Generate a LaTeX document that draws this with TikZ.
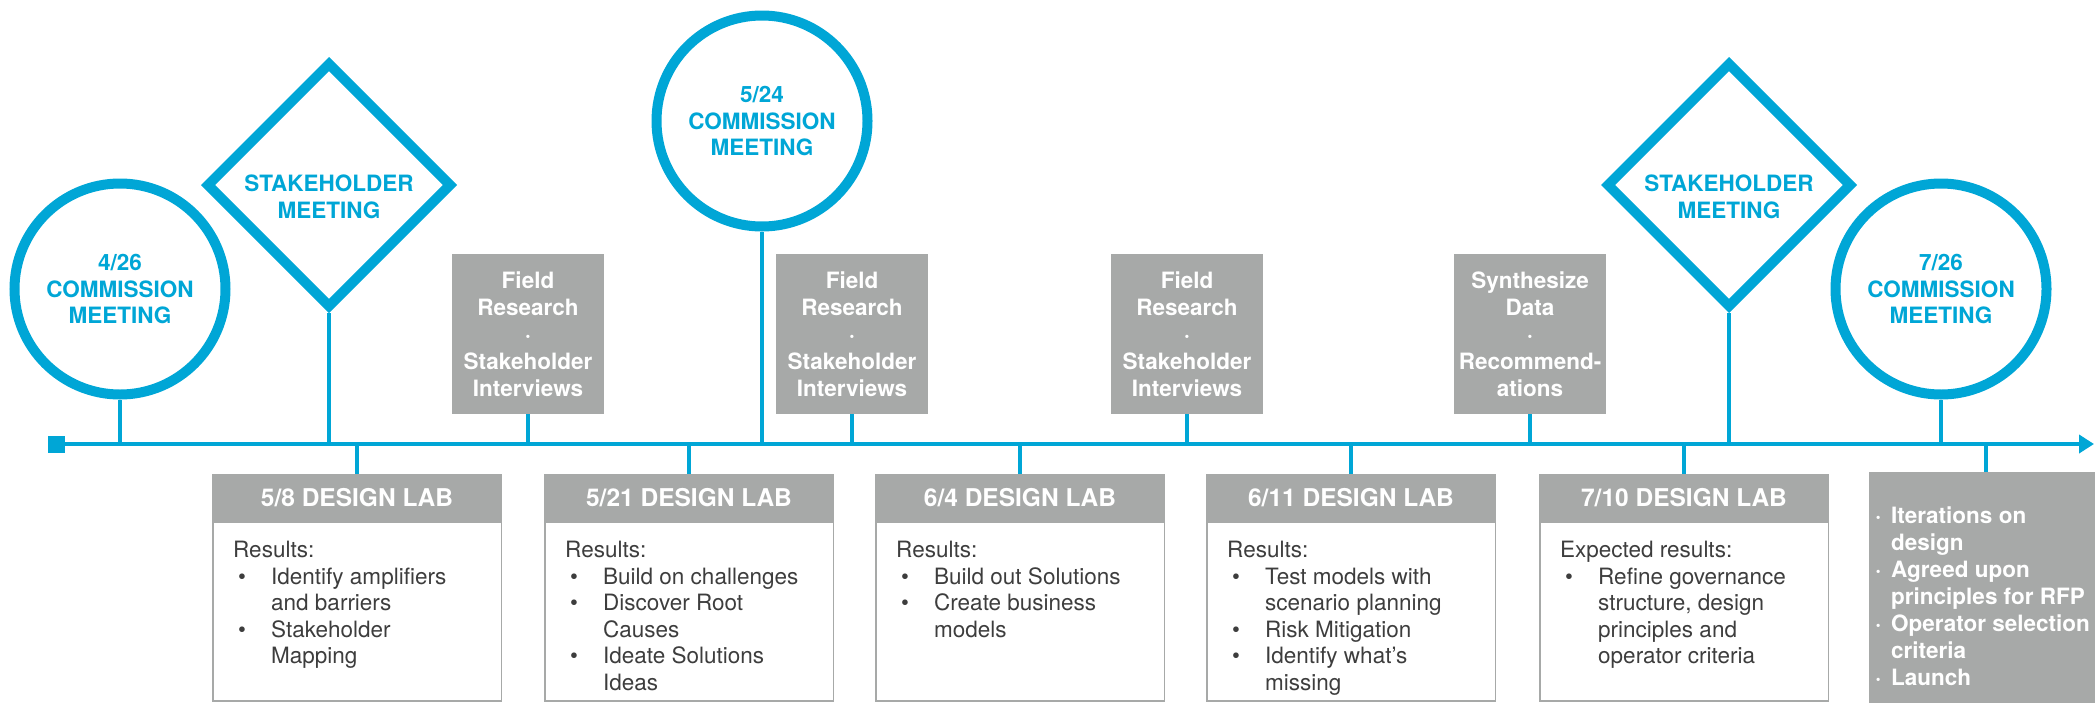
\documentclass[tikz,border=0pt]{standalone}
\usepackage{fontspec}
\setmainfont{TeX Gyre Heros}
\usetikzlibrary{shapes.geometric,arrows.meta,positioning}
\definecolor{tlblue}{HTML}{00A6D6}
\definecolor{tlgray}{HTML}{A7A9A8}
\definecolor{tltext}{HTML}{3D3D3D}
\newcommand{\labbullet}{\hspace{5pt}\textbullet}
\newcommand{\nextdot}{\hspace{2pt}\textperiodcentered}

\begin{document}
\begin{tikzpicture}[x=1pt,y=-1pt,
            meeting/.style={circle, draw=tlblue, line width=10pt, minimum size=211pt, inner sep=0pt, align=center, text=tlblue, font=\fontsize{22.5}{26.5}\selectfont\bfseries},
            stakeholder/.style={diamond, draw=tlblue, line width=10pt, minimum width=246pt, minimum height=246pt, inner sep=0pt},
            bluetext/.style={align=center, text=tlblue, font=\fontsize{22.5}{26.5}\selectfont\bfseries},
            field/.style={rectangle, fill=tlgray, minimum width=152pt, minimum height=160pt, inner sep=0pt, align=center, text=white, font=\fontsize{22.5}{27}\selectfont\bfseries},
            labhead/.style={rectangle, fill=tlgray, minimum width=290pt, minimum height=48pt, inner sep=0pt, text=white, font=\fontsize{24.5}{28}\selectfont\bfseries},
            labbody/.style={rectangle, draw=tlgray, line width=1.5pt, minimum width=288.5pt, minimum height=179pt, inner sep=0pt},
            labtext/.style={anchor=north west, inner sep=0pt, text=tltext, font=\fontsize{22.5}{26.5}\selectfont},
            stem/.style={draw=tlblue, line width=4.5pt}
            ]
            \useasboundingbox (0,0) rectangle (2095,702);

            \node[fill=tlblue, minimum size=17pt, inner sep=0pt] (sq) at (56,444) {};
            \coordinate (end) at (2094,444);

            % above the line
            \node[meeting] (m1) at (120,289) {4/26\\COMMISSION\\MEETING};
            \node[stakeholder, label={[bluetext, yshift=-12pt]center:{STAKEHOLDER\\MEETING}}] (s1) at (329,185) {};
            \node[field] (f1) at (528,334) {Field\\Research\\·\\Stakeholder\\Interviews};
            \node[meeting] (m2) at (762,121) {5/24\\COMMISSION\\MEETING};
            \node[field] (f2) at (852,334) {Field\\Research\\·\\Stakeholder\\Interviews};
            \node[field] (f3) at (1187,334) {Field\\Research\\·\\Stakeholder\\Interviews};
            \node[field] (f4) at (1530,334) {Synthesize\\Data\\·\\Recommend-\\ations};
            \node[stakeholder, label={[bluetext, yshift=-12pt]center:{STAKEHOLDER\\MEETING}}] (s2) at (1729,185) {};
            \node[meeting] (m3) at (1941,289) {7/26\\COMMISSION\\MEETING};

            % below the line
            \node[labhead] (lab1) at (357,498) {5/8 DESIGN LAB};
            \node[labhead] (lab2) at (689,498) {5/21 DESIGN LAB};
            \node[labhead] (lab3) at (1020,498) {6/4 DESIGN LAB};
            \node[labhead] (lab4) at (1351,498) {6/11 DESIGN LAB};
            \node[labhead] (lab5) at (1684,498) {7/10 DESIGN LAB};

            \node[labbody] (body1) at (357,611.5) {};
            \node[labbody] (body2) at (689,611.5) {};
            \node[labbody] (body3) at (1020,611.5) {};
            \node[labbody] (body4) at (1351,611.5) {};
            \node[labbody] (body5) at (1684,611.5) {};

            \node[labtext] (res1) at (233,539) {\begin{tabular}{@{}p{38pt}@{}l@{}}
                \multicolumn{2}{@{}l@{}}{Results:}\\
                \labbullet & Identify amplifiers\\
                & and barriers\\
                \labbullet & Stakeholder\\
                & Mapping
            \end{tabular}};
            \node[labtext] (res2) at (565,539) {\begin{tabular}{@{}p{38pt}@{}l@{}}
                \multicolumn{2}{@{}l@{}}{Results:}\\
                \labbullet & Build on challenges\\
                \labbullet & Discover Root\\
                & Causes\\
                \labbullet & Ideate Solutions\\
                & Ideas
            \end{tabular}};
            \node[labtext] (res3) at (896,539) {\begin{tabular}{@{}p{38pt}@{}l@{}}
                \multicolumn{2}{@{}l@{}}{Results:}\\
                \labbullet & Build out Solutions\\
                \labbullet & Create business\\
                & models
            \end{tabular}};
            \node[labtext] (res4) at (1227,539) {\begin{tabular}{@{}p{38pt}@{}l@{}}
                \multicolumn{2}{@{}l@{}}{Results:}\\
                \labbullet & Test models with\\
                & scenario planning\\
                \labbullet & Risk Mitigation\\
                \labbullet & Identify what’s\\
                & missing
            \end{tabular}};
            \node[labtext] (res5) at (1560,539) {\begin{tabular}{@{}p{38pt}@{}l@{}}
                \multicolumn{2}{@{}l@{}}{Expected results:}\\
                \labbullet & Refine governance\\
                & structure, design\\
                & principles and\\
                & operator criteria
            \end{tabular}};

            \node[rectangle, fill=tlgray, anchor=north west, minimum width=234pt, minimum height=240pt, inner sep=0pt] (launch) at (1869,472) {};
            \node[labtext, text=white, font=\fontsize{22.5}{27}\selectfont\bfseries] (todo) at (1873,504) {\begin{tabular}{@{}p{18pt}@{}l@{}}
                \nextdot & Iterations on\\
                & design\\
                \nextdot & Agreed upon\\
                & principles for RFP\\
                \nextdot & Operator selection\\
                & criteria\\
                \nextdot & Launch
            \end{tabular}};

            \draw[stem] (m1) -- (m1 |- sq);
            \draw[stem] (s1) -- (s1 |- sq);
            \draw[stem] (f1) -- (f1 |- sq);
            \draw[stem] (m2) -- (m2 |- sq);
            \draw[stem] (f2) -- (f2 |- sq);
            \draw[stem] (f3) -- (f3 |- sq);
            \draw[stem] (f4) -- (f4 |- sq);
            \draw[stem] (s2) -- (s2 |- sq);
            \draw[stem] (m3) -- (m3 |- sq);

            \draw[stem] (lab1 |- sq) -- (lab1);
            \draw[stem] (lab2 |- sq) -- (lab2);
            \draw[stem] (lab3 |- sq) -- (lab3);
            \draw[stem] (lab4 |- sq) -- (lab4);
            \draw[stem] (lab5 |- sq) -- (lab5);
            \draw[stem] (launch |- sq) -- (launch);

            \draw[stem, -{Triangle[length=15pt, width=18pt]}] (sq) -- (end);

            \end{tikzpicture}
\end{document}
